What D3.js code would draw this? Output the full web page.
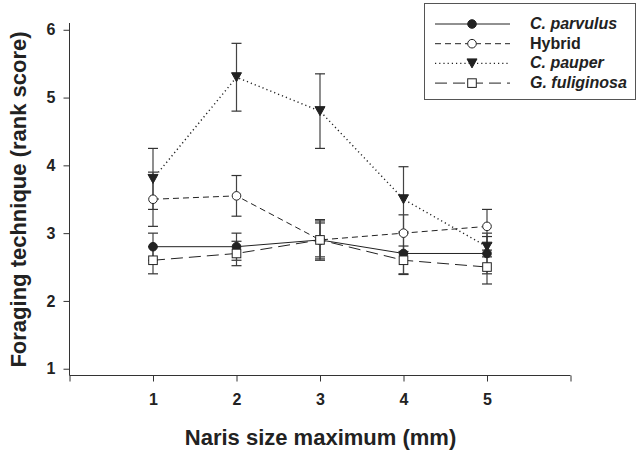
<!DOCTYPE html>
<html>
<head>
<meta charset="utf-8">
<style>
  body { margin: 0; background: #fff; }
  text { font-family: "Liberation Sans", Arial, sans-serif; font-weight: bold; fill: #222; }
  .axis path, .axis line { stroke: #333; stroke-width: 1; fill: none; }
</style>
<script src="https://cdn.jsdelivr.net/npm/d3@7"></script>
</head>
<body>
<svg id="chart" width="638" height="454"></svg>
<script>
// naris size classes
var sizes = [1, 2, 3, 4, 5];

// mean rank scores and standard errors per group
var parvulus     = [2.8, 2.8, 2.9, 2.7, 2.7];
var parvulusErr  = [0.2, 0.2, 0.3, 0.3, 0.3];
var hybrid       = [3.5, 3.55, 2.9, 3.0, 3.1];
var hybridErr    = [0.4, 0.3, 0.25, 0.27, 0.25];
var pauper       = [3.8, 5.3, 4.8, 3.5, 2.8];
var pauperErr    = [0.45, 0.5, 0.55, 0.48, 0.15];
var fuliginosa   = [2.6, 2.7, 2.9, 2.6, 2.5];
var fuliginosaErr = [0.2, 0.18, 0.28, 0.21, 0.25];

var xTicks = [1, 2, 3, 4, 5];
var yTicks = [1, 2, 3, 4, 5, 6];

var series = [
    {name: "C. parvulus", italic: true, vals: parvulus, err: parvulusErr, dash: null, sym: "circle", fill: "#222"},
    {name: "Hybrid", italic: false, vals: hybrid, err: hybridErr, dash: "6,4", sym: "circle", fill: "#fff"},
    {name: "C. pauper", italic: true, vals: pauper, err: pauperErr, dash: "1.2,3", sym: "triangle", fill: "#222"},
    {name: "G. fuliginosa", italic: true, vals: fuliginosa, err: fuliginosaErr, dash: "12,6", sym: "square", fill: "#fff"}
];

var svg = d3.select("#chart");

var x = d3.scaleLinear().domain([0, 6]).range([69.5, 570.5]);
var y = d3.scaleLinear().domain([0.9, 6.1]).range([375.5, 23]);

// axes
svg.append("g")
    .attr("class", "axis")
    .attr("transform", "translate(0," + y(0.9) + ")")
    .call(d3.axisBottom(x).tickValues([0].concat(xTicks).concat([6])).tickSize(6)
        .tickFormat(function(d) { return (d == 0 || d == 6) ? "" : d; }))
    .call(function(g) {
        g.selectAll("text").attr("font-size", 16).attr("y", 29.5).attr("dy", null);
        g.select(".domain").attr("d", "M" + x(0) + ",0H" + x(6));
    });

svg.append("g")
    .attr("class", "axis")
    .attr("transform", "translate(" + x(0) + ",0)")
    .call(d3.axisLeft(y).tickValues(yTicks).tickSize(6).tickFormat(d3.format("d")))
    .call(function(g) {
        g.selectAll("text").attr("font-size", 16).attr("x", -14);
        g.select(".domain").attr("d", "M0," + y(6.1) + "V" + y(0.9));
    });

svg.append("text")
    .attr("x", 320.5)
    .attr("y", 445)
    .attr("text-anchor", "middle")
    .attr("font-size", 22)
    .text("Naris size maximum (mm)");

svg.append("text")
    .attr("transform", "translate(26,199.5) rotate(-90)")
    .attr("text-anchor", "middle")
    .attr("font-size", 22)
    .text("Foraging technique (rank score)");

function symbol(sel, s) {
    if (s.sym == "circle") {
        sel.append("circle").attr("r", 4.3);
    } else if (s.sym == "square") {
        sel.append("rect").attr("x", -4.3).attr("y", -4.3).attr("width", 8.6).attr("height", 8.6);
    } else {
        sel.append("path").attr("d", "M-5,-4.5L5,-4.5L0,4.5Z");
    }
    sel.selectAll("*").attr("fill", s.fill).attr("stroke", "#222").attr("stroke-width", 1);
}

var line = d3.line()
    .x(function(d, i) { return x(sizes[i]); })
    .y(function(d) { return y(d); });

// error bars first
series.forEach(function(s) {
    var g = svg.append("g");
    g.selectAll("line.bar")
        .data(s.vals)
        .enter().append("line")
        .attr("x1", function(d, i) { return x(sizes[i]); })
        .attr("x2", function(d, i) { return x(sizes[i]); })
        .attr("y1", function(d, i) { return y(d + s.err[i]); })
        .attr("y2", function(d, i) { return y(d - s.err[i]); })
        .attr("stroke", "#444").attr("stroke-width", 1.2);
    [1, -1].forEach(function(sign) {
        g.selectAll("line.cap" + sign)
            .data(s.vals)
            .enter().append("line")
            .attr("x1", function(d, i) { return x(sizes[i]) - 5; })
            .attr("x2", function(d, i) { return x(sizes[i]) + 5; })
            .attr("y1", function(d, i) { return y(d + sign * s.err[i]); })
            .attr("y2", function(d, i) { return y(d + sign * s.err[i]); })
            .attr("stroke", "#333").attr("stroke-width", 1.2);
    });
});

series.forEach(function(s) {
    svg.append("path")
        .datum(s.vals)
        .attr("d", line)
        .attr("fill", "none")
        .attr("stroke", "#222")
        .attr("stroke-width", s.dash == "1.2,3" ? 1.4 : 1)
        .attr("stroke-dasharray", s.dash);
});

series.forEach(function(s) {
    svg.selectAll(null)
        .data(s.vals)
        .enter().append("g")
        .attr("transform", function(d, i) { return "translate(" + x(sizes[i]) + "," + y(d) + ")"; })
        .each(function() { symbol(d3.select(this), s); });
});

// legend
var lg = svg.append("g");
lg.append("rect")
    .attr("x", 424.5).attr("y", 3.5).attr("width", 211).attr("height", 96)
    .attr("fill", "#fff").attr("stroke", "#555").attr("stroke-width", 1);

series.forEach(function(s, i) {
    var yy = 24 + i * 19.7;
    lg.append("line")
        .attr("x1", 435).attr("x2", 510).attr("y1", yy).attr("y2", yy)
        .attr("stroke", "#222")
        .attr("stroke-width", s.dash == "1.2,3" ? 1.4 : 1)
        .attr("stroke-dasharray", s.dash);
    var m = lg.append("g").attr("transform", "translate(472," + yy + ")");
    symbol(m, s);
    lg.append("text")
        .attr("x", 530).attr("y", yy + 5)
        .attr("font-size", 16)
        .attr("font-style", s.italic ? "italic" : "normal")
        .text(s.name);
});
</script>
</body>
</html>
